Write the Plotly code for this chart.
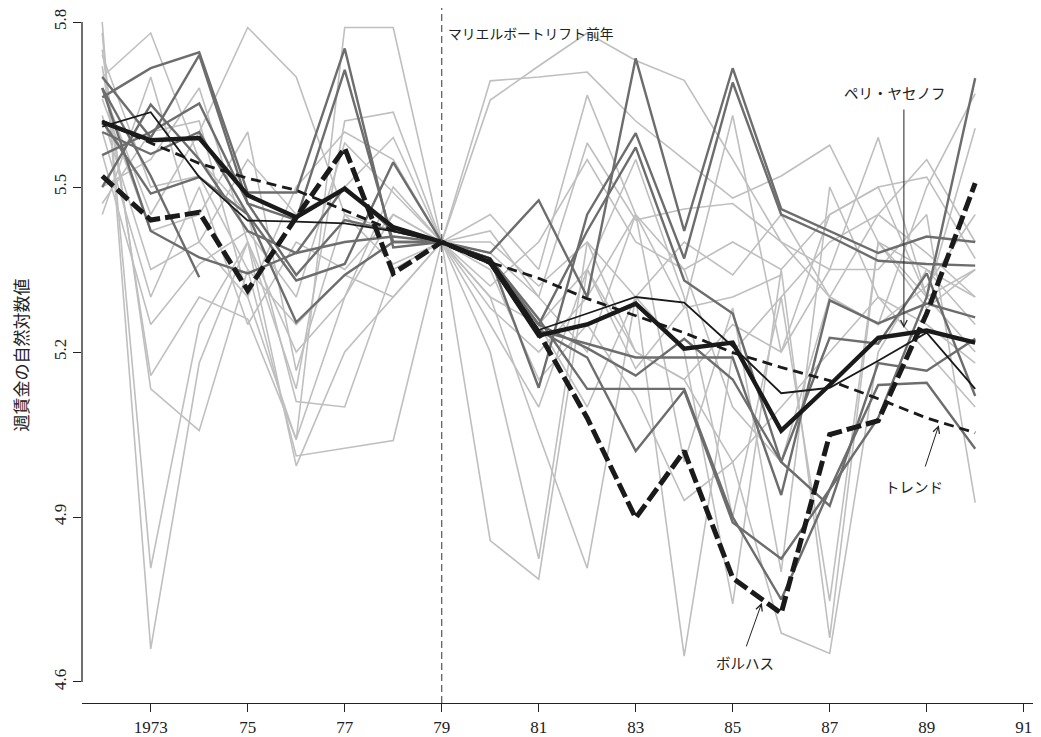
import plotly.graph_objects as go

years = list(range(1972, 1991))

# Highlighted series
peri_yasenov = [5.618, 5.585, 5.589, 5.485, 5.445, 5.497, 5.427, 5.40, 5.363, 5.230, 5.250, 5.288, 5.206, 5.217, 5.057, 5.140, 5.226, 5.239, 5.217]
thin_black = [5.610, 5.636, 5.518, 5.439, 5.437, 5.434, 5.420, 5.40, 5.370, 5.240, 5.270, 5.300, 5.290, 5.210, 5.125, 5.135, 5.184, 5.235, 5.133]
borjas = [5.520, 5.440, 5.454, 5.312, 5.445, 5.571, 5.343, 5.40, 5.363, 5.235, 5.080, 4.898, 5.020, 4.789, 4.725, 5.050, 5.075, 5.270, 5.507]
trend = [5.620, 5.580, 5.543, 5.516, 5.494, 5.458, 5.421, 5.40, 5.363, 5.334, 5.297, 5.266, 5.235, 5.199, 5.172, 5.148, 5.115, 5.080, 5.053]

# Darker grey comparison series
mid_1 = [5.663, 5.716, 5.745, 5.49, 5.49, 5.752, 5.39, 5.40, 5.38, 5.476, 5.30, 5.734, 5.42, 5.716, 5.46, 5.42, 5.38, 5.41, 5.40]
mid_2 = [5.70, 5.59, 5.74, 5.47, 5.44, 5.713, 5.40, 5.40, 5.37, 5.135, 5.45, 5.598, 5.37, 5.69, 5.45, 5.41, 5.366, 5.36, 5.357]
mid_3 = [5.558, 5.60, 5.652, 5.47, 5.34, 5.44, 5.42, 5.40, 5.36, 5.25, 5.42, 5.572, 5.33, 5.27, 5.00, 4.92, 5.18, 5.166, 5.224]
mid_4 = [5.62, 5.488, 5.518, 5.45, 5.33, 5.36, 5.545, 5.40, 5.37, 5.26, 5.133, 5.133, 5.133, 4.90, 4.75, 4.95, 5.14, 5.144, 5.024]
mid_5 = [5.68, 5.42, 5.372, 5.343, 5.38, 5.40, 5.41, 5.40, 5.36, 5.24, 5.19, 5.02, 5.13, 4.89, 4.824, 4.95, 5.08, 5.30, 5.698]
mid_6 = [5.60, 5.56, 5.60, 5.45, 5.254, 5.34, 5.40, 5.40, 5.37, 5.239, 5.215, 5.19, 5.19, 5.19, 4.94, 5.294, 5.252, 5.288, 5.263]
mid_7 = [5.68, 5.52, 5.336, None, None, None, None, None, None, None, None, None, None, None, None, None, None, None, None]
mid_8 = [5.50, 5.65, 5.55, 5.42, 5.38, 5.50, 5.42, 5.40, 5.37, 5.25, 5.207, 5.157, 5.224, 5.15, 5.00, 5.226, 5.215, 5.343, 5.12]

# Light grey comparison series
lt_1 = [5.80, 4.66, 5.18, 5.40, 5.20, 5.30, 5.45, 5.40, 5.693, 5.70, 5.709, 5.62, 5.55, 5.48, 5.52, 5.576, 5.40, 5.35, 5.30]
lt_2 = [5.78, 4.807, 5.25, 5.40, 4.993, 5.20, 5.30, 5.40, 5.658, 5.72, 5.78, 5.73, 5.694, 5.55, 5.40, 5.30, 5.25, 5.32, 5.45]
lt_3 = [5.75, 5.133, 5.057, 5.35, 5.011, 5.025, 5.039, 5.40, 5.45, 5.35, 5.667, 5.45, 5.35, 5.40, 5.35, 5.45, 5.50, 5.518, 5.37]
lt_4 = [5.72, 5.157, 5.30, 5.26, 5.042, 5.30, 5.50, 5.40, 5.42, 5.30, 5.58, 5.44, 5.46, 5.47, 5.40, 5.35, 5.59, 5.30, 5.607]
lt_5 = [5.70, 5.78, 5.55, 5.45, 5.11, 5.10, 5.35, 5.40, 4.857, 4.787, 5.35, 5.20, 5.15, 5.00, 5.10, 5.20, 5.30, 5.25, 5.18]
lt_6 = [5.68, 5.45, 5.60, 5.79, 5.70, 5.45, 5.36, 5.40, 5.20, 4.824, 5.40, 5.30, 4.647, 5.20, 5.30, 5.40, 5.45, 5.38, 5.30]
lt_7 = [5.50, 5.55, 5.68, 5.40, 5.133, 5.62, 5.636, 5.40, 5.30, 5.05, 4.807, 5.30, 5.20, 4.742, 5.35, 4.68, 5.40, 5.28, 5.35]
lt_8 = [5.47, 5.60, 5.62, 5.30, 5.04, 5.79, 5.79, 5.40, 5.35, 5.15, 5.25, 5.12, 4.93, 5.00, 4.689, 4.652, 5.20, 5.35, 5.25]
lt_9 = [5.63, 5.35, 5.40, 5.55, 5.45, 5.50, 5.59, 5.40, 5.25, 5.10, 5.35, 5.55, 5.30, 4.90, 5.30, 4.747, 5.40, 5.30, 5.35]
lt_10 = [5.56, 5.25, 5.36, 5.42, 5.30, 5.58, 5.49, 5.40, 5.38, 5.30, 5.20, 5.45, 5.28, 5.63, 5.20, 5.35, 5.35, 5.45, 4.926]
lt_11 = [5.74, 5.50, 5.52, 5.35, 5.25, 5.34, 5.30, 5.40, 5.36, 5.25, 5.10, 5.30, 5.40, 5.34, 5.45, 5.30, 5.25, 5.50, 5.67]
lt_12 = [5.66, 5.42, 5.45, 5.60, 5.166, 5.45, 5.42, 5.40, 5.40, 5.32, 5.40, 5.20, 5.15, 5.25, 5.20, 5.45, 5.50, 5.30, 5.20]
lt_13 = [5.45, 5.70, 5.40, 5.30, 5.50, 5.60, 5.55, 5.40, 5.32, 5.40, 5.55, 5.40, 5.35, 5.10, 5.00, 5.30, 5.45, 5.55, 5.40]
lt_14 = [5.60, 5.30, 5.50, 5.25, 5.40, 5.35, 5.45, 5.40, 5.28, 5.20, 5.30, 5.45, 5.00, 5.28, 4.80, 5.50, 5.30, 5.20, 5.10]
lt_15 = [None, None, None, None, None, None, None, 5.40, 5.30, 5.25, 5.35, 5.17, 5.28, 5.30, 5.34, None, None, None, None]

light_series = [lt_1, lt_2, lt_3, lt_4, lt_5, lt_6, lt_7, lt_8, lt_9, lt_10, lt_11, lt_12, lt_13, lt_14, lt_15]
mid_series = [mid_1, mid_2, mid_3, mid_4, mid_5, mid_6, mid_7, mid_8]

x_tick_vals = [1973, 1975, 1977, 1979, 1981, 1983, 1985, 1987, 1989, 1991]
x_tick_text = ["1973", "75", "77", "79", "81", "83", "85", "87", "89", "91"]
y_tick_vals = [4.6, 4.9, 5.2, 5.5, 5.8]
y_tick_text = ["4.6", "4.9", "5.2", "5.5", "5.8"]

SERIF = "Liberation Serif, Times New Roman, serif"
JP = "Noto Sans CJK JP, sans-serif"

fig = go.Figure()
for s in light_series:
    fig.add_trace(go.Scatter(x=years, y=s, mode="lines", line=dict(color="#bfbfbf", width=1.6),
                             showlegend=False, hoverinfo="skip"))
for s in mid_series:
    fig.add_trace(go.Scatter(x=years, y=s, mode="lines", line=dict(color="#6d6d6d", width=2.4),
                             showlegend=False, hoverinfo="skip"))
fig.add_trace(go.Scatter(x=years, y=thin_black, mode="lines", line=dict(color="#1a1a1a", width=1.8),
                         showlegend=False, hoverinfo="skip"))
fig.add_trace(go.Scatter(x=years, y=trend, mode="lines", line=dict(color="#1a1a1a", width=2.8, dash="10px,6px"),
                         showlegend=False, hoverinfo="skip"))
fig.add_trace(go.Scatter(x=years, y=peri_yasenov, mode="lines", line=dict(color="#1a1a1a", width=4.4),
                         showlegend=False, hoverinfo="skip"))
fig.add_trace(go.Scatter(x=years, y=borjas, mode="lines", line=dict(color="#1a1a1a", width=5.0, dash="15px,5px"),
                         showlegend=False, hoverinfo="skip"))

fig.update_layout(
    width=1033, height=729,
    margin=dict(l=74, r=0, t=0, b=34),
    plot_bgcolor="white", paper_bgcolor="white",
    xaxis=dict(range=[1971.583, 1991.357], tickvals=x_tick_vals, ticktext=x_tick_text,
               ticks="outside", ticklen=8, tickwidth=1.2, tickcolor="#222",
               showline=True, linecolor="#222", linewidth=1.3,
               showgrid=False, zeroline=False,
               tickfont=dict(family=SERIF, size=17, color="#222")),
    yaxis=dict(range=[4.5618, 5.8255], tickvals=y_tick_vals, ticktext=y_tick_text,
               tickangle=-90, ticks="outside", ticklen=8, tickwidth=1.2, tickcolor="#222",
               showline=False, showgrid=False, zeroline=False,
               tickfont=dict(family=SERIF, size=17, color="#222")),
    shapes=[
        dict(type="line", xref="paper", x0=0, x1=0, yref="y", y0=4.6, y1=5.8,
             line=dict(color="#222", width=1.3)),
        dict(type="line", xref="x", x0=1979, x1=1979, yref="paper", y0=0, y1=1,
             line=dict(color="#555", width=1.2, dash="7px,4px")),
    ],
)

annotations = [
    dict(text="週賃金の自然対数値", xref="paper", yref="paper", x=0, y=0.5, xshift=-62,
         xanchor="center", yanchor="middle",
         textangle=-90, showarrow=False, font=dict(family=JP, size=17, color="#222")),
    dict(text="マリエルボートリフト前年", xref="x", yref="y", x=1979, y=5.78, xshift=4,
         xanchor="left", yanchor="middle", showarrow=False, font=dict(family=JP, size=13.8, color="#222")),
    dict(text="ペリ・ヤセノフ", xref="x", yref="y", x=1988.35, y=5.671, showarrow=False,
         font=dict(family=JP, size=14.5, color="#222")),
    dict(text="トレンド", xref="x", yref="y", x=1988.74, y=4.955, showarrow=False,
         font=dict(family=JP, size=14.5, color="#222")),
    dict(text="ボルハス", xref="x", yref="y", x=1985.25, y=4.635, showarrow=False,
         font=dict(family=JP, size=14.5, color="#222")),
    dict(text="", x=1988.53, y=5.2436, ax=1988.53, ay=5.6436, xref="x", yref="y", axref="x", ayref="y",
         showarrow=True, arrowhead=5, arrowsize=1.3, arrowwidth=1, arrowcolor="#222"),
    dict(text="", x=1989.25, y=5.067, ax=1988.96, ay=4.989, xref="x", yref="y", axref="x", ayref="y",
         showarrow=True, arrowhead=5, arrowsize=1.3, arrowwidth=1, arrowcolor="#222"),
    dict(text="", x=1985.60, y=4.744, ax=1985.27, ay=4.662, xref="x", yref="y", axref="x", ayref="y",
         showarrow=True, arrowhead=5, arrowsize=1.3, arrowwidth=1, arrowcolor="#222"),
]
fig.update_layout(annotations=annotations)

fig.write_html("out.html")
